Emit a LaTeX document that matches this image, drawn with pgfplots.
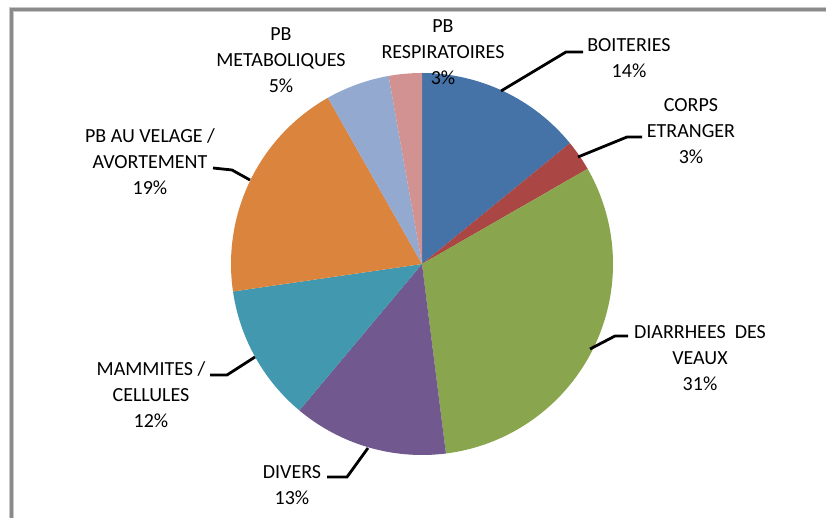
\documentclass[border=0pt]{standalone}
\usepackage{pgfplots}
\pgfplotsset{compat=1.18}
\usepackage{pgfplotstable}
\usepackage{fontspec}
\setmainfont{Carlito}

\definecolor{slice0}{RGB}{69,114,167}
\definecolor{slice1}{RGB}{170,70,67}
\definecolor{slice2}{RGB}{137,165,78}
\definecolor{slice3}{RGB}{113,88,143}
\definecolor{slice4}{RGB}{65,152,175}
\definecolor{slice5}{RGB}{219,132,61}
\definecolor{slice6}{RGB}{147,169,207}
\definecolor{slice7}{RGB}{209,146,145}
\definecolor{framegray}{RGB}{138,138,138}
\definecolor{framelight}{RGB}{200,200,200}

\tikzset{
  lbl/.style={font=\fontsize{20bp}{26bp}\selectfont, align=center, inner sep=0pt, text=black},
  leader/.style={black, line width=2.8bp},
}

% share of each cause, clockwise from the top
\pgfplotstableread{
cause value
BOITERIES 14.1
CORPS 2.6
DIARRHEES 31.3
DIVERS 13.1
MAMMITES 11.6
VELAGE 19.1
METABOLIQUES 5.4
RESPIRATOIRES 2.8
}\piedata

\def\cx{422}\def\cy{254}\def\rad{191}

\begin{document}%
% cumulative angles of the slices
\xdef\cum{90}%
\pgfplotsforeachungrouped \i in {0,...,7}{%
  \pgfplotstablegetelem{\i}{value}\of\piedata%
  \pgfmathsetmacro\endang{\cum-3.6*\pgfplotsretval}%
  \pgfmathsetmacro\sx{\cx+\rad*cos(\cum)}%
  \pgfmathsetmacro\sy{\cy+\rad*sin(\cum)}%
  \expandafter\xdef\csname sa\i\endcsname{\cum}%
  \expandafter\xdef\csname ea\i\endcsname{\endang}%
  \expandafter\xdef\csname sx\i\endcsname{\sx}%
  \expandafter\xdef\csname sy\i\endcsname{\sy}%
  \xdef\cum{\endang}%
}%
\begin{tikzpicture}
\useasboundingbox (0,0) rectangle (826bp,518bp);
\begin{axis}[
  at={(0,0)}, anchor=south west,
  width=826bp, height=518bp, scale only axis,
  xmin=0, xmax=826, ymin=0, ymax=518,
  hide axis, clip=false,
]
% frame
\draw[framelight, line width=5bp] (axis cs:11.5,0) -- (axis cs:11.5,508.5) -- (axis cs:826,508.5);
\draw[framegray, line width=3bp] (axis cs:11.5,0) -- (axis cs:11.5,508.5) -- (axis cs:826,508.5);
% slices
\pgfplotsinvokeforeach{0,...,7}{
  \fill[slice#1] (axis cs:\cx,\cy) -- (axis cs:\csname sx#1\endcsname,\csname sy#1\endcsname)
    arc[start angle=\csname sa#1\endcsname, end angle=\csname ea#1\endcsname, radius=\rad bp] -- cycle;
}
% leader lines
\draw[leader] (axis cs:501,427) -- (axis cs:566,466) -- (axis cs:583,466);
\draw[leader] (axis cs:578,361) -- (axis cs:627,381) -- (axis cs:642,381);
\draw[leader] (axis cs:590,169) -- (axis cs:615,182) -- (axis cs:628,182);
\draw[leader] (axis cs:368,70) -- (axis cs:347,41) -- (axis cs:327,41);
\draw[leader] (axis cs:255,161) -- (axis cs:227,143) -- (axis cs:210,143);
\draw[leader] (axis cs:250,338) -- (axis cs:232,348) -- (axis cs:213,350);
% labels
\node[lbl] at (axis cs:281,457.5) {PB\\METABOLIQUES\\5\%};
\node[lbl] at (axis cs:443,466) {PB\\RESPIRATOIRES\\3\%};
\node[lbl] at (axis cs:629,459.5) {BOITERIES\\14\%};
\node[lbl] at (axis cs:691,386.5) {CORPS\\ETRANGER\\3\%};
\node[lbl] at (axis cs:700,159.5) {DIARRHEES~~DES\\VEAUX\\31\%};
\node[lbl] at (axis cs:292,32.5) {DIVERS\\13\%};
\node[lbl] at (axis cs:151,123.5) {MAMMITES /\\CELLULES\\12\%};
\node[lbl] at (axis cs:150,356) {PB AU VELAGE /\\AVORTEMENT\\19\%};
\end{axis}
\end{tikzpicture}%
\end{document}
